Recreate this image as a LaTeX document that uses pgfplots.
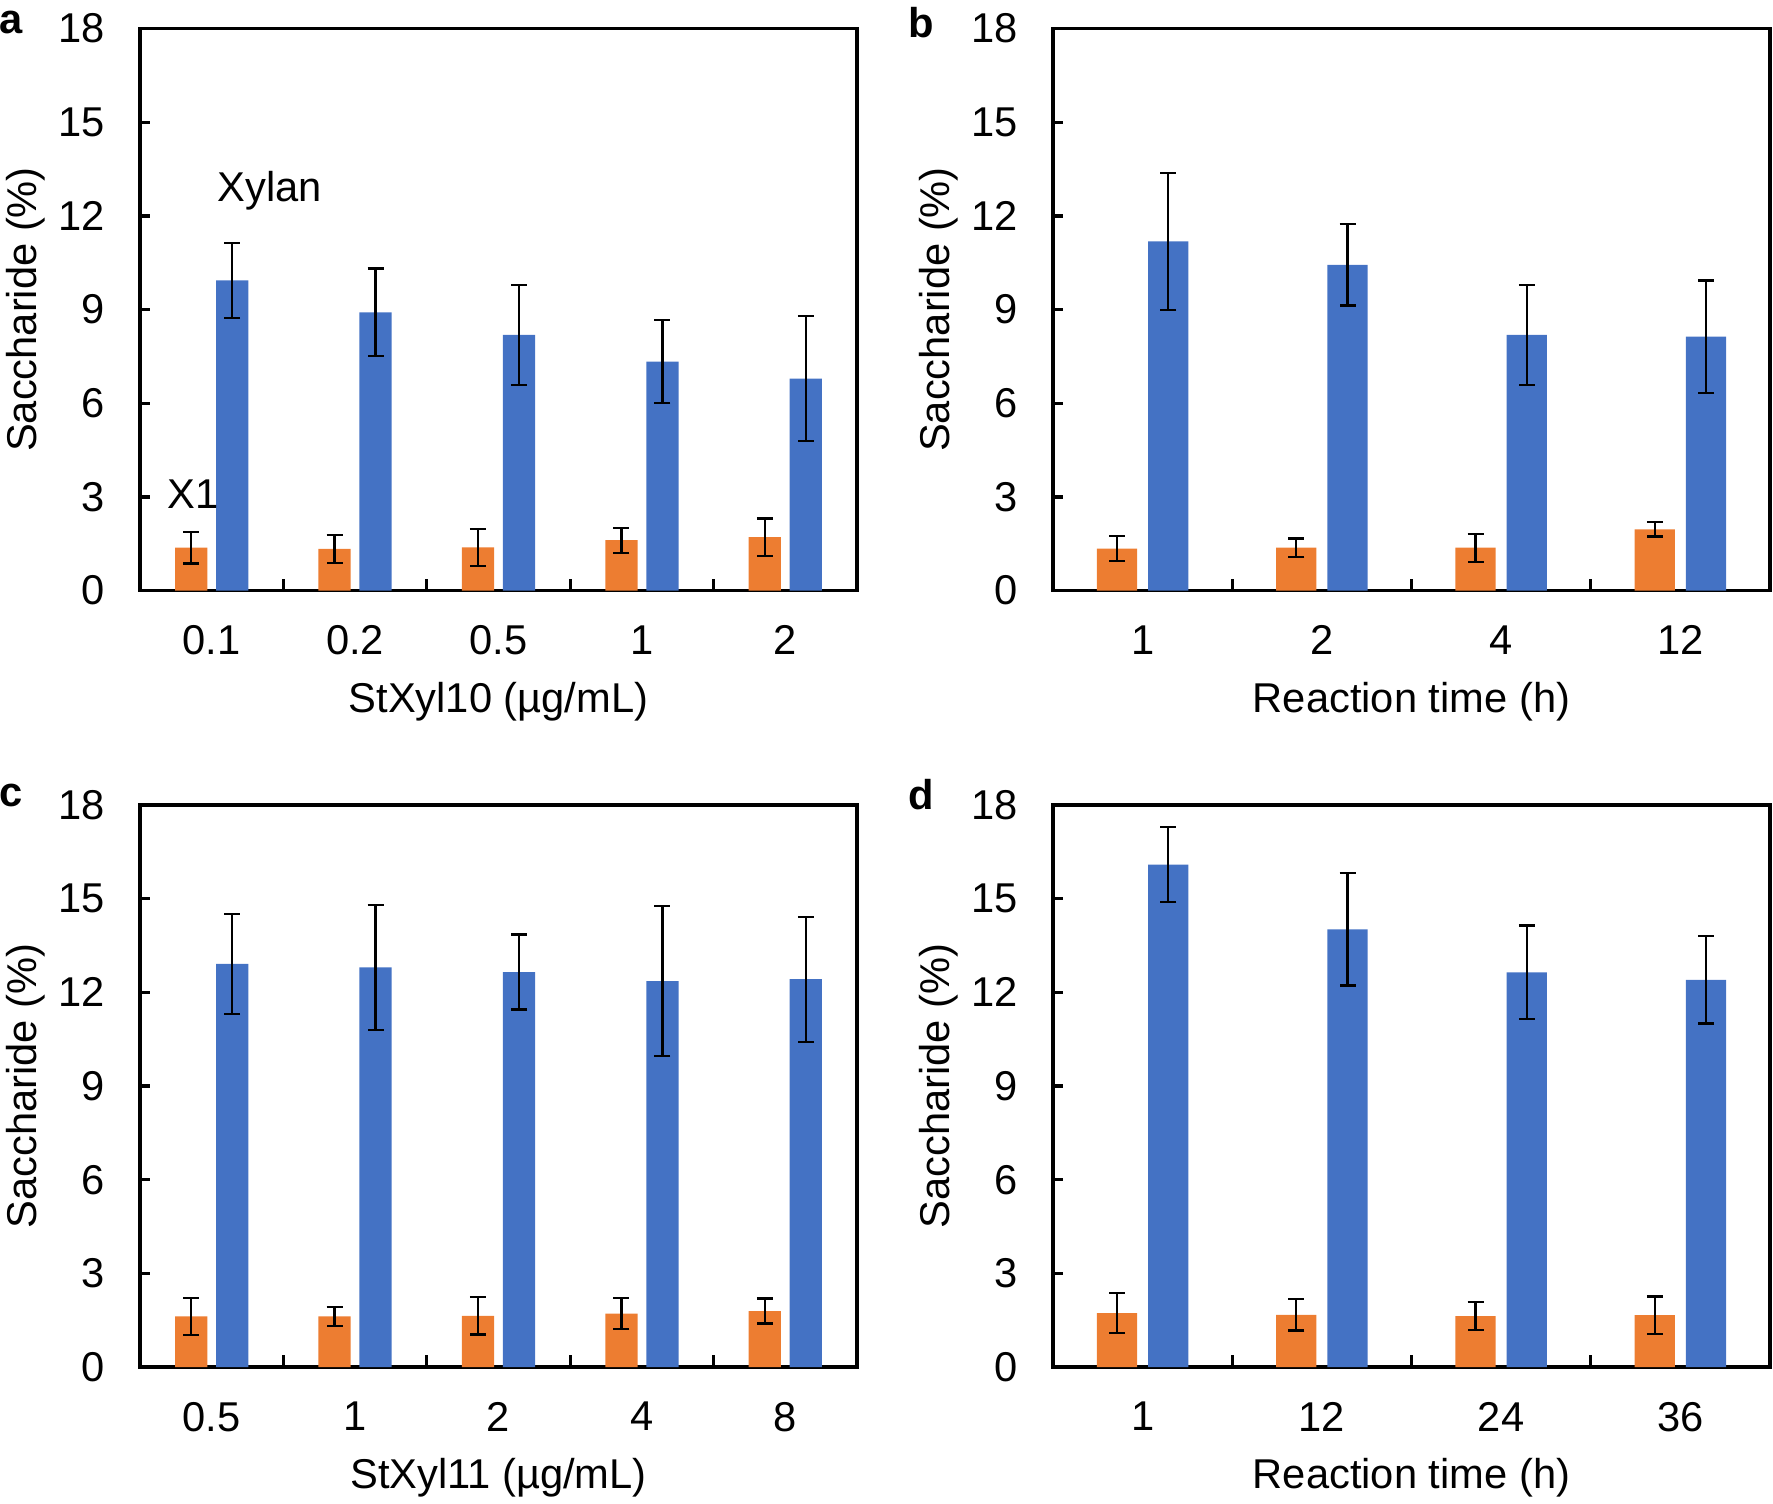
\documentclass[border=0pt]{standalone}
\usepackage{pgfplots}
\pgfplotsset{compat=1.18}
\usepackage{pgfplotstable}
\usepackage{fontspec}
\setmainfont{Liberation Sans}
\definecolor{xorange}{HTML}{ED7D31}
\definecolor{xblue}{HTML}{4472C4}

\pgfplotstableread{
x y e
0 1.37 0.50
1 1.33 0.44
2 1.38 0.60
3 1.61 0.40
4 1.71 0.60
}\aOr
\pgfplotstableread{
x y e
0 9.93 1.20
1 8.91 1.40
2 8.19 1.60
3 7.33 1.33
4 6.79 2.00
}\aBl
\pgfplotstableread{
x y e
0 1.34 0.40
1 1.37 0.30
2 1.37 0.45
3 1.96 0.23
}\bOr
\pgfplotstableread{
x y e
0 11.18 2.20
1 10.43 1.30
2 8.19 1.60
3 8.13 1.80
}\bBl
\pgfplotstableread{
x y e
0 1.62 0.60
1 1.62 0.30
2 1.64 0.60
3 1.71 0.50
4 1.79 0.40
}\cOr
\pgfplotstableread{
x y e
0 12.91 1.60
1 12.80 2.00
2 12.65 1.20
3 12.36 2.40
4 12.42 2.00
}\cBl
\pgfplotstableread{
x y e
0 1.73 0.64
1 1.67 0.50
2 1.63 0.45
3 1.66 0.60
}\dOr
\pgfplotstableread{
x y e
0 16.09 1.20
1 14.02 1.80
2 12.64 1.50
3 12.40 1.40
}\dBl

\pgfplotsset{
  panel/.style={
    scale only axis, width=215.1pt, height=168.6pt, anchor=south west,
    ymin=0, ymax=18, ytick={0,3,...,18},
    axis line style={line width=1pt}, tick style={line width=1pt, black},
    tick align=inside, xtick pos=bottom, ytick pos=left,
    major tick length=3pt,
    minor tick length=3.6pt,
    font=\fontsize{12.5}{15}\selectfont,
    /pgf/number format/assume math mode=true,
    yticklabel style={anchor=east, xshift=-7pt},
    xticklabel style={yshift=-7pt},
    ylabel={Saccharide (\%)},
    ylabel style={at={(axis description cs:-0.160,0.5)}, anchor=center},
    xlabel style={at={(axis description cs:0.5,-0.197)}, anchor=center},
    clip=false,
  },
  ebars/.style={error bars/.cd, y dir=both, y explicit,
    error bar style={black, line width=0.7pt},
    error mark options={rotate=90, mark size=2.4pt, line width=0.7pt, black}},
  orbar/.style={ybar, bar width=0.225, bar shift=0pt, fill=xorange, draw=none, ebars},
  blbar/.style={ybar, bar width=0.225, bar shift=0pt, fill=xblue, draw=none, ebars},
}

\begin{document}
\begin{tikzpicture}
\useasboundingbox (0,0) rectangle (531.9pt,450.9pt);

% panel a
\begin{axis}[panel, at={(42.0pt,273.75pt)},
  xmin=-0.5, xmax=4.5, xtick={0,1,2,3,4}, xticklabels={0.1,0.2,0.5,1,2},
  minor xtick={0.5,1.5,2.5,3.5}, major x tick style={draw=none},
  xlabel={StXyl10 (µg/mL)}]
\addplot[orbar] table[x expr=\thisrow{x}-0.143, y=y, y error=e] {\aOr};
\addplot[blbar] table[x expr=\thisrow{x}+0.143, y=y, y error=e] {\aBl};
\node[font=\fontsize{12.5}{15}\selectfont] at (axis cs:0.405,12.82) {Xylan};
\node[font=\fontsize{12.5}{15}\selectfont] at (axis cs:-0.13,3.08) {X1};
\end{axis}

% panel b
\begin{axis}[panel, at={(315.9pt,273.75pt)},
  xmin=-0.5, xmax=3.5, xtick={0,1,2,3}, xticklabels={1,2,4,12},
  minor xtick={0.5,1.5,2.5}, major x tick style={draw=none},
  xlabel={Reaction time (h)}]
\addplot[orbar] table[x expr=\thisrow{x}-0.143, y=y, y error=e] {\bOr};
\addplot[blbar] table[x expr=\thisrow{x}+0.143, y=y, y error=e] {\bBl};
\end{axis}

% panel c
\begin{axis}[panel, at={(42.0pt,40.8pt)},
  xmin=-0.5, xmax=4.5, xtick={0,1,2,3,4}, xticklabels={0.5,1,2,4,8},
  minor xtick={0.5,1.5,2.5,3.5}, major x tick style={draw=none},
  xlabel={StXyl11 (µg/mL)}]
\addplot[orbar] table[x expr=\thisrow{x}-0.143, y=y, y error=e] {\cOr};
\addplot[blbar] table[x expr=\thisrow{x}+0.143, y=y, y error=e] {\cBl};
\end{axis}

% panel d
\begin{axis}[panel, at={(315.9pt,40.8pt)},
  xmin=-0.5, xmax=3.5, xtick={0,1,2,3}, xticklabels={1,12,24,36},
  minor xtick={0.5,1.5,2.5}, major x tick style={draw=none},
  xlabel={Reaction time (h)}]
\addplot[orbar] table[x expr=\thisrow{x}-0.143, y=y, y error=e] {\dOr};
\addplot[blbar] table[x expr=\thisrow{x}+0.143, y=y, y error=e] {\dBl};
\end{axis}

\node[font=\fontsize{12.5}{15}\selectfont\bfseries] at (3.4pt,444.1pt) {a};
\node[font=\fontsize{12.5}{15}\selectfont\bfseries] at (276.5pt,444.1pt) {b};
\node[font=\fontsize{12.5}{15}\selectfont\bfseries] at (3.4pt,212.4pt) {c};
\node[font=\fontsize{12.5}{15}\selectfont\bfseries] at (276.5pt,212.4pt) {d};
\end{tikzpicture}
\end{document}
